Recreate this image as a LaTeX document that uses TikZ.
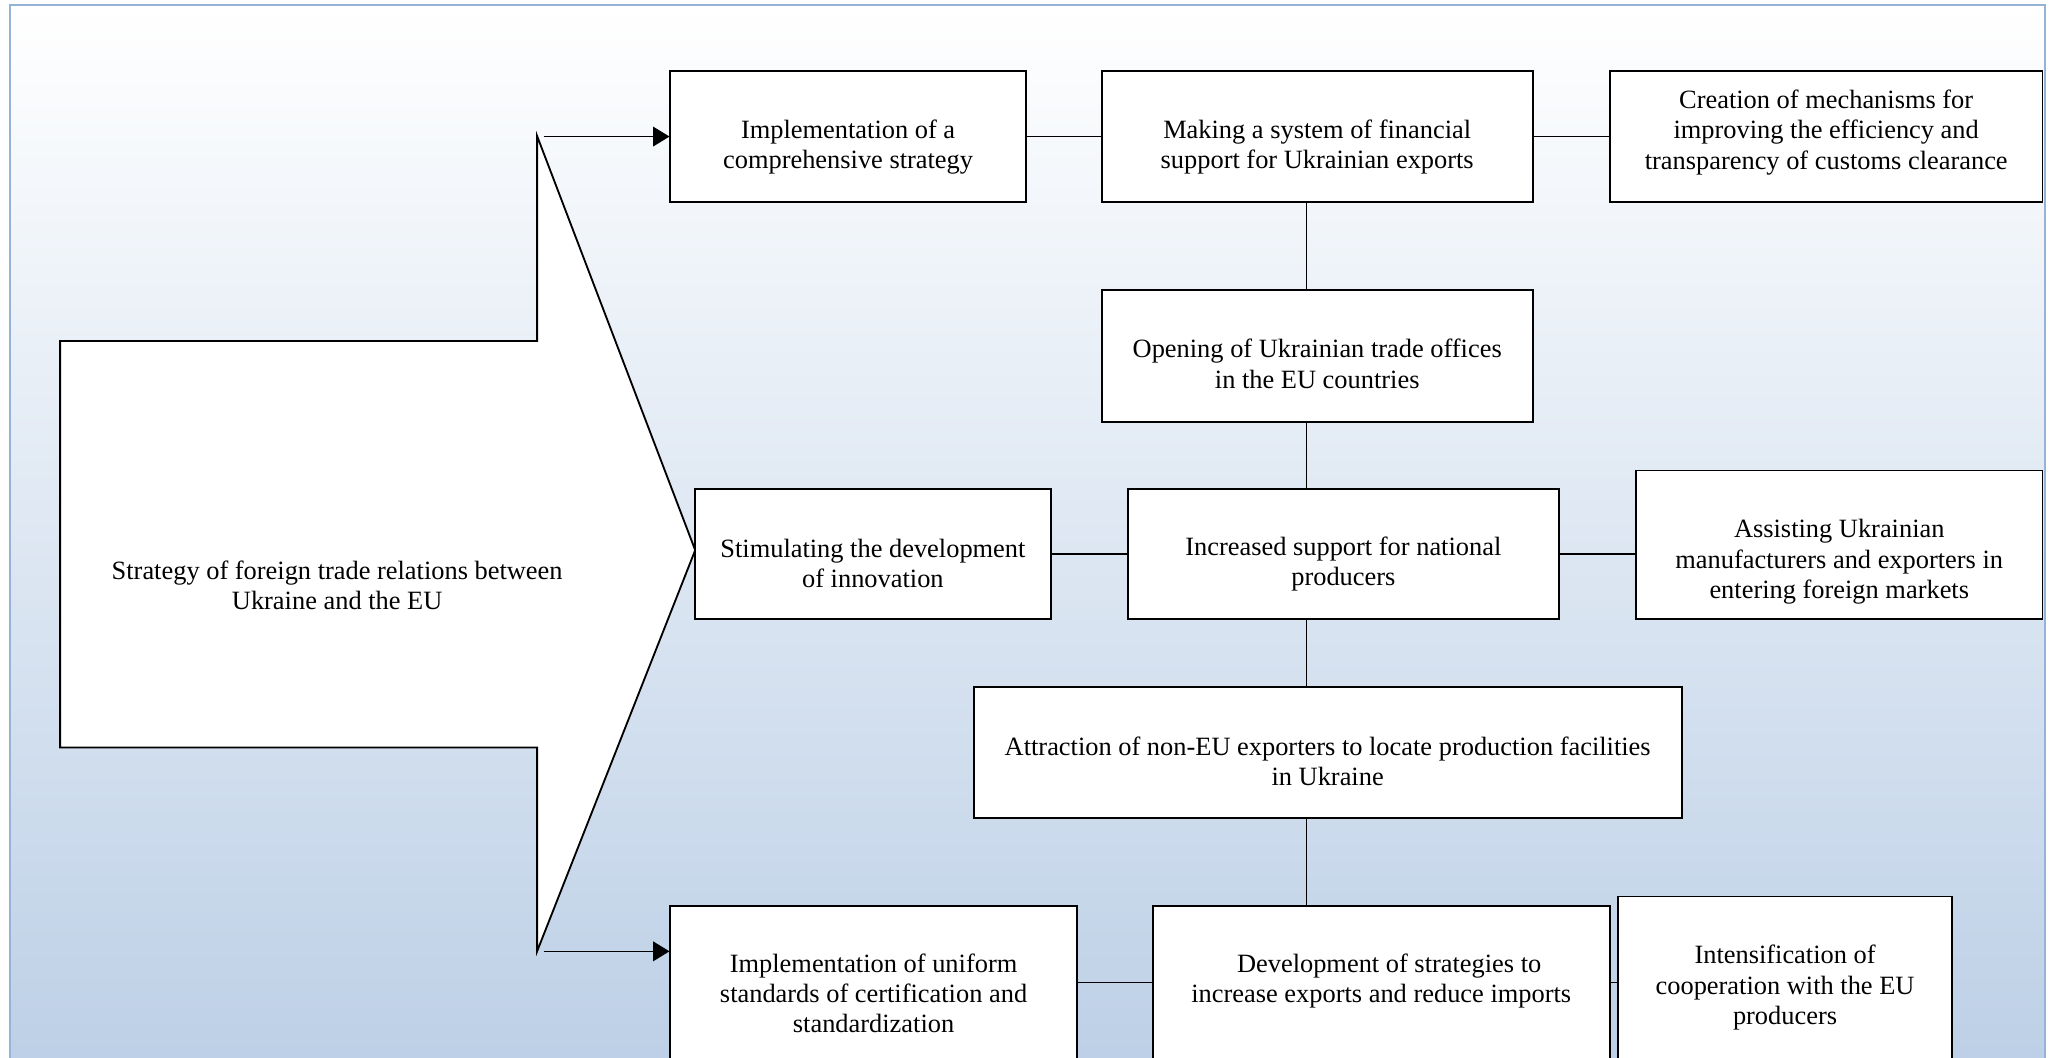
\documentclass[tikz,border=0pt]{standalone}
\usepackage{fontspec}
\setmainfont{Liberation Serif}
\usepackage{tikz}
\usetikzlibrary{calc,arrows.meta}
\definecolor{frameblue}{RGB}{149,179,215}
\definecolor{shadeblue}{RGB}{185,205,229}
\definecolor{shademid}{RGB}{230,236,246}
\newcommand{\toppad}[1]{\rule{0pt}{#1}}

\begin{document}
\begin{tikzpicture}[x=0.02cm, y=-0.02cm, box/.style={rectangle, draw, fill=white, line width=0.8pt, align=center, inner sep=2pt, font=\fontsize{11.5}{13.2}\selectfont}, link/.style={line width=0.6pt}, >={Triangle[length=2.5mm,width=3mm]}]
            \useasboundingbox (0,0) rectangle (1568,809);
            \clip (0,0) rectangle (1568,809);
            \draw[frameblue, line width=0.9pt, top color=white, middle color=shademid, bottom color=shadeblue] (8,4) rectangle (1565,860);
            % big arrow
            \draw[fill=white, line width=0.8pt] (46,261) -- (411,261) -- (411,104) -- (532,421) -- (411,728) -- (411,572) -- (46,572) -- cycle;
            \node[font=\fontsize{11.5}{13.2}\selectfont, align=center] (strat) at (258,448) {Strategy of foreign trade relations between\\Ukraine and the EU};
            \coordinate (tnotch) at (416,104.5);
            \coordinate (bnotch) at (416,728);
            \coordinate (spine) at (1000,0);
            \node[box, minimum width=5.44cm, minimum height=2cm] (impl) at (649,104.5) {\toppad{17pt}Implementation of a\\comprehensive strategy};
            \node[box, minimum width=6.6cm, minimum height=2cm] (fin) at (1008,104.5) {\toppad{17pt}Making a system of financial\\support for Ukrainian exports};
            \node[box, minimum width=6.62cm, minimum height=2cm] (cust) at (1397.5,104.5) {Creation of mechanisms for\\improving the efficiency and\\transparency of customs clearance\rule[-6pt]{0pt}{0pt}};
            \node[box, minimum width=6.6cm, minimum height=2.02cm] (offices) at (1008,272.5) {\toppad{14.7pt}Opening of Ukrainian trade offices\\in the EU countries};
            \node[box, minimum width=5.44cm, minimum height=2cm] (innov) at (668,424) {\toppad{15.9pt}Stimulating the development\\of innovation};
            \node[box, minimum width=6.6cm, minimum height=2cm] (natl) at (1028,424) {\toppad{17pt}Increased support for national\\producers};
            \node[box, minimum width=6.22cm, minimum height=2.28cm] (assist) at (1407.5,417) {\toppad{22.7pt}Assisting Ukrainian\\manufacturers and exporters in\\entering foreign markets};
            \node[box, minimum width=10.84cm, minimum height=2cm] (attr) at (1016,576) {\toppad{15.9pt}Attraction of non-EU exporters to locate production facilities\\in Ukraine};
            \node[box, minimum width=6.22cm, minimum height=2.68cm] (uniform) at (668.5,760) {Implementation of uniform\\standards of certification and\\standardization};
            \node[box, minimum width=7cm, minimum height=2.68cm] (dev) at (1057,760) {\hspace*{0.6em}Development of strategies to\\increase exports and reduce imports\\\mbox{}};
            \node[box, minimum width=5.12cm, minimum height=2.68cm] (coop) at (1366,753) {\toppad{11.3pt}Intensification of\\cooperation with the EU\\producers};
            \draw[link,->] (tnotch) -- (impl.west);
            \draw[link,->] (bnotch) -- (bnotch -| uniform.west);
            \draw[link] (impl) -- (fin);
            \draw[link] (fin) -- (cust);
            \draw[link] (fin.south -| spine) -- (offices.north -| spine);
            \draw[link] (offices.south -| spine) -- (natl.north -| spine);
            \draw[link] (innov) -- (natl);
            \draw[link] (natl.east) -- (natl.east -| assist.west);
            \draw[link] (natl.south -| spine) -- (attr.north -| spine);
            \draw[link] (attr.south -| spine) -- (dev.north -| spine);
            \draw[link] ([yshift=0.16cm]uniform.east) -- ([yshift=0.16cm]dev.west);
            \draw[link] ([yshift=0.16cm]dev.east) -- ([yshift=0.16cm]dev.east -| coop.west);
        \end{tikzpicture}
\end{document}
